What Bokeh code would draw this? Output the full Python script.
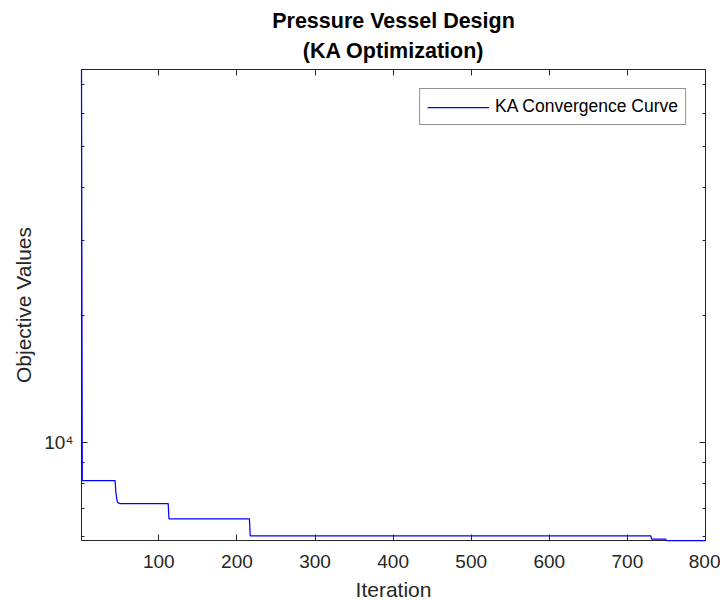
from bokeh.plotting import figure
from bokeh.models import (Range1d, LogAxis, LinearAxis, FixedTicker, Legend,
                          LegendItem, ColumnDataSource, CustomJSTickFormatter, Title)
from bokeh.embed import file_html
from bokeh.resources import INLINE

# ---- data (best-so-far objective value) ----
change_iters = [1, 2, 45, 46, 47, 48, 49, 50, 113, 217, 731, 750]
change_values = [76000, 8150, 7650, 7400, 7250, 7220, 7210, 7193, 6622, 6036, 5926, 5885]
n_iter = 800

x_ticks = [100, 200, 300, 400, 500, 600, 700, 800]
y_major = [10000]
y_minor = [6000, 7000, 8000, 9000, 20000, 30000, 40000, 50000, 60000, 70000]
y_labels = {10000: "10\u2074"}

# expand change points into a per-iteration convergence curve
iters = list(range(1, n_iter + 1))
curve = []
k = 0
for it in iters:
    while k + 1 < len(change_iters) and change_iters[k + 1] <= it:
        k += 1
    curve.append(change_values[k])

src = ColumnDataSource(dict(x=iters, y=curve))

FONT = "Liberation Sans"
AX = "#262626"

p = figure(width=720, height=603,
           x_range=Range1d(1, n_iter), y_range=Range1d(min(curve), max(curve)),
           y_axis_type="log", output_backend="svg", toolbar_location=None,
           min_border_left=81, min_border_right=15, min_border_top=69,
           min_border_bottom=62)
p.grid.visible = False
p.outline_line_color = None
p.background_fill_color = "white"

r = p.line("x", "y", source=src, line_color="#0000FF", line_width=1.25,
           level="overlay")

# bottom / left axes
xa = p.xaxis[0]
xa.ticker = FixedTicker(ticks=x_ticks)
xa.axis_label = "Iteration"
ya = p.yaxis[0]
ya.ticker = FixedTicker(ticks=y_major, minor_ticks=y_minor)
ya.major_label_overrides = y_labels
ya.axis_label = "Objective Values"

for ax in (xa, ya):
    ax.axis_line_color = AX
    ax.major_tick_line_color = AX
    ax.minor_tick_line_color = AX
    ax.major_tick_out = 0
    ax.minor_tick_out = 0
    ax.major_tick_in = 6
    ax.minor_tick_in = 3
    ax.major_label_text_font = FONT
    ax.major_label_text_font_size = "19px"
    ax.major_label_text_color = AX
    ax.axis_label_text_font = FONT
    ax.axis_label_text_font_size = "21px"
    ax.axis_label_text_font_style = "normal"
    ax.axis_label_text_color = AX
xa.minor_tick_in = 0
xa.major_label_standoff = 14
xa.axis_label_standoff = 7
ya.major_label_standoff = 8
ya.axis_label_standoff = 6

# mirrored box axes (right, top) without labels
blank = CustomJSTickFormatter(code="return ''")
ra = LogAxis(ticker=FixedTicker(ticks=y_major, minor_ticks=y_minor), formatter=blank)
ta = LinearAxis(ticker=FixedTicker(ticks=x_ticks), formatter=blank)
for ax in (ra, ta):
    ax.axis_line_color = AX
    ax.major_tick_line_color = AX
    ax.minor_tick_line_color = AX
    ax.major_tick_out = 0
    ax.minor_tick_out = 0
    ax.major_tick_in = 6
    ax.minor_tick_in = 3
    ax.major_label_standoff = 0
ta.minor_tick_in = 0
p.add_layout(ra, "right")
p.add_layout(ta, "above")

# two-line title, each line centred
p.title.text = "Pressure Vessel Design"
p.title.align = "center"
p.title.text_font = FONT
p.title.text_font_size = "21.5px"
p.title.text_font_style = "bold"
p.title.text_color = "black"
p.title.standoff = -7
t2 = Title(text="(KA Optimization)", align="center", text_font=FONT,
           text_font_size="21.5px", text_font_style="bold", text_color="black",
           standoff=14)
p.add_layout(t2, "above")

legend = Legend(items=[LegendItem(label="KA Convergence Curve", renderers=[r])],
                location="top_right", margin=19, padding=7, spacing=0,
                glyph_width=62, glyph_height=18, label_height=18,
                label_standoff=6, label_text_font=FONT,
                label_text_font_size="17.5px", label_text_color="black",
                border_line_color=AX, border_line_width=1,
                background_fill_color="white", background_fill_alpha=1)
p.add_layout(legend)

open("out.html", "w").write(file_html(p, INLINE))
